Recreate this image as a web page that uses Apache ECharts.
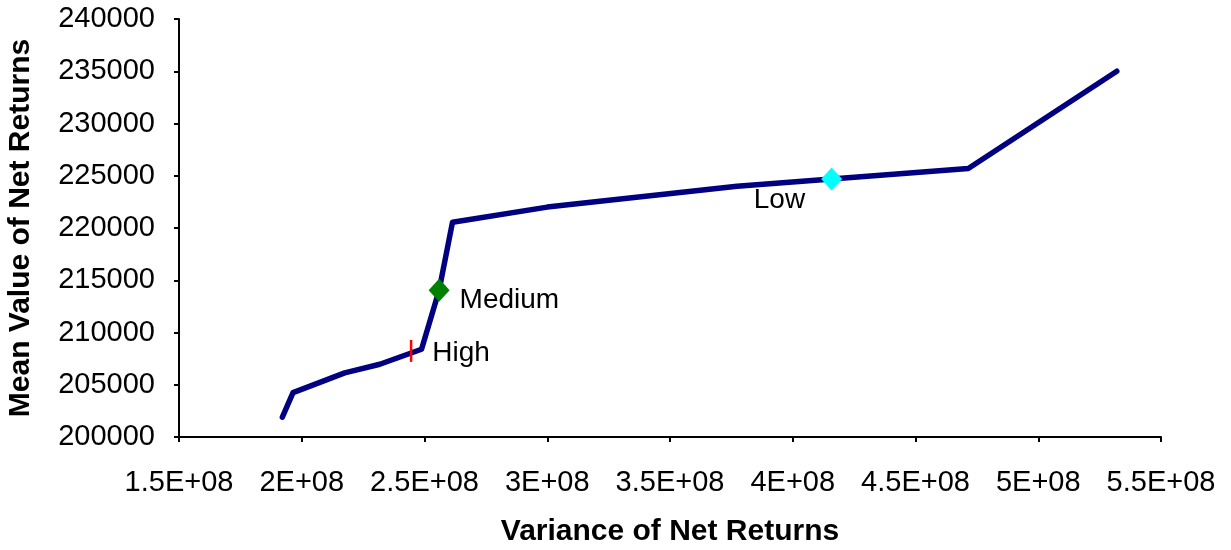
<!DOCTYPE html>
<html>
<head>
<meta charset="utf-8">
<style>
  html, body { margin: 0; padding: 0; background: #ffffff; }
  #chart { width: 1231px; height: 550px; }
</style>
<script src="https://cdn.jsdelivr.net/npm/echarts@6/dist/echarts.min.js"></script>
</head>
<body>
<div id="chart"></div>
<script>
// Efficient frontier: variance vs. mean of net returns
const frontierVariance = [1.921e8, 1.9645e8, 2.175e8, 2.318e8, 2.488e8, 2.5595e8, 2.614e8, 3.0e8, 3.773e8, 4.715e8, 5.32e8];
const frontierMean     = [201900, 204250, 206130, 206960, 208400, 214050, 220550, 222000, 224000, 225700, 235000];

// Named strategies on the frontier
const strategyNames    = ['High', 'Medium', 'Low'];
const strategyVariance = [2.4454e8, 2.5595e8, 4.1585e8];
const strategyMean     = [208240, 214050, 224700];

// Axis ticks
const xTickValues = [1.5e8, 2e8, 2.5e8, 3e8, 3.5e8, 4e8, 4.5e8, 5e8, 5.5e8];
const xTickLabels = ['1.5E+08', '2E+08', '2.5E+08', '3E+08', '3.5E+08', '4E+08', '4.5E+08', '5E+08', '5.5E+08'];
const yTickLabels = ['200000', '205000', '210000', '215000', '220000', '225000', '230000', '235000', '240000'];

const FONT = '"Liberation Sans", Arial, sans-serif';

const frontierData = frontierVariance.map((v, i) => [v, frontierMean[i]]);
const point = (i) => [strategyVariance[i], strategyMean[i]];

const chart = echarts.init(document.getElementById('chart'), null, { renderer: 'canvas' });

chart.setOption({
  animation: false,
  backgroundColor: '#ffffff',
  textStyle: { fontFamily: FONT, color: '#000' },
  grid: { left: 179, right: 70, top: 19, bottom: 113, containLabel: false, outerBoundsMode: 'none' },
  xAxis: {
    type: 'value',
    min: 1.5e8,
    max: 5.5e8,
    interval: 0.5e8,
    name: 'Variance of Net Returns',
    nameLocation: 'middle',
    nameGap: 80,
    nameTextStyle: { fontFamily: FONT, fontSize: 30, fontWeight: 'bold', color: '#000' },
    axisLine: { show: true, lineStyle: { color: '#000', width: 2 } },
    axisTick: { show: true, length: 5, lineStyle: { color: '#000', width: 2 } },
    splitLine: { show: false },
    axisLabel: {
      margin: 31,
      fontFamily: FONT,
      fontSize: 29,
      color: '#000',
      formatter: (v) => {
        const i = xTickValues.findIndex((t) => Math.abs(t - v) < 1);
        return i >= 0 ? xTickLabels[i] : '';
      }
    }
  },
  yAxis: {
    type: 'value',
    min: 200000,
    max: 240000,
    interval: 5000,
    name: 'Mean Value of Net Returns',
    nameLocation: 'middle',
    nameGap: 143,
    nameTextStyle: { fontFamily: FONT, fontSize: 30, fontWeight: 'bold', color: '#000' },
    axisLine: { show: true, lineStyle: { color: '#000', width: 2 } },
    axisTick: { show: true, length: 5, lineStyle: { color: '#000', width: 2 } },
    splitLine: { show: false },
    axisLabel: {
      margin: 24,
      fontFamily: FONT,
      fontSize: 29,
      color: '#000',
      formatter: (v) => yTickLabels[Math.round((v - 200000) / 5000)] || ''
    }
  },
  series: [
    {
      type: 'line',
      data: frontierData,
      showSymbol: false,
      symbol: 'none',
      lineStyle: { color: '#000080', width: 5.5, cap: 'round', join: 'round' },
      z: 2
    },
    {
      type: 'scatter',
      z: 3,
      itemStyle: { opacity: 1 },
      data: [
        {
          name: strategyNames[0],
          value: point(0),
          symbol: 'rect',
          symbolSize: [2.5, 22],
          itemStyle: { color: '#ff0000', opacity: 1 },
          label: { show: true, position: 'right', distance: 20, offset: [0, 2] }
        },
        {
          name: strategyNames[1],
          value: point(1),
          symbol: 'diamond',
          symbolSize: [21, 23],
          itemStyle: { color: '#008000', opacity: 1 },
          label: { show: true, position: 'right', distance: 10, offset: [0, 10] }
        },
        {
          name: strategyNames[2],
          value: point(2),
          symbol: 'diamond',
          symbolSize: [21, 23],
          itemStyle: { color: '#00ffff', opacity: 1 },
          label: { show: true, position: 'left', distance: 16, offset: [0, 21] }
        }
      ],
      label: {
        formatter: (p) => p.name,
        fontFamily: FONT,
        fontSize: 28,
        color: '#000',
        opacity: 1
      }
    }
  ]
});
</script>
</body>
</html>
